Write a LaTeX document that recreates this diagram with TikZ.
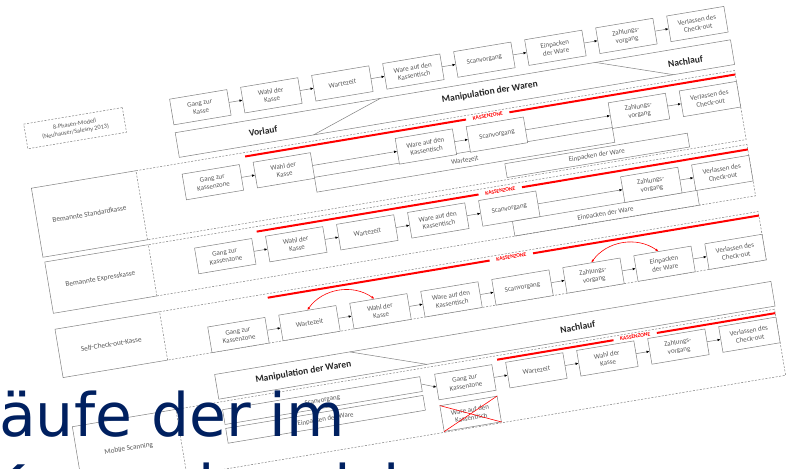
\documentclass[tikz,border=0pt]{standalone}
\usepackage{fontspec}
\setmainfont{Carlito}
\newfontfamily\bigfont{DejaVu Sans}
\usetikzlibrary{arrows.meta}
\definecolor{bx}{HTML}{808080}
\definecolor{tx}{HTML}{595959}
\definecolor{dk}{HTML}{262626}
\definecolor{navy}{HTML}{002060}
\definecolor{rd}{HTML}{FF0000}
\tikzset{
  pbox/.style={draw=bx, line width=0.5pt, fill=white, minimum width=58pt, minimum height=26pt,
    inner sep=1pt, align=center, text=tx, font=\fontsize{7}{8}\selectfont},
  wlabel/.style={inner sep=1pt, text=tx, font=\fontsize{7}{8}\selectfont},
  lanelabel/.style={inner sep=1pt, text=tx, font=\fontsize{7.3}{8}\selectfont},
  phase/.style={inner sep=1pt, text=dk, font=\fontsize{9.5}{10}\selectfont\bfseries},
  kz/.style={inner sep=0.5pt, text=rd, font=\fontsize{5.5}{6}\selectfont\bfseries},
  frame/.style={draw=bx, line width=0.5pt},
  lanebox/.style={draw=bx, line width=0.5pt, dashed, dash pattern=on 2pt off 1.5pt},
  redline/.style={draw=rd, line width=2pt},
  flow/.style={draw=bx, line width=0.5pt, -{Latex[length=3pt,width=2.6pt,color=black]}},
  swap/.style={draw=rd, line width=0.6pt, {Latex[length=3pt,width=2.6pt]}-{Latex[length=3pt,width=2.6pt]}},
  widebox/.style={draw=bx, line width=0.5pt, fill=white, minimum width=200pt, minimum height=15pt, inner sep=0pt,
    text=tx, font=\fontsize{7}{8}\selectfont},
  title/.style={anchor=base west, inner sep=0pt, text=navy, font=\bigfont\fontsize{60}{60}\selectfont}
}
\begin{document}
\begin{tikzpicture}[x=1pt,y=1pt]
\useasboundingbox (0,0) rectangle (786,468);
\fill[white] (0,0) rectangle (786,468);
\begin{scope}[shift={(400,234)}, rotate=9.5, transform shape]
% ---------- 8-Phasen-Modell ----------
\node[lanebox, minimum width=100pt, minimum height=25pt, align=center, text=tx,
  font=\fontsize{6.3}{7.3}\selectfont] (mod) at (-303,158) {8-Phasen-Modell\\(Neuhauser/Salesny 2013)};
\node[pbox] (a1) at (-176,158) {Gang zur\\Kasse};
\node[pbox] (a2) at (-104,158) {Wahl der\\Kasse};
\node[pbox] (a3) at (-32,158) {Wartezeit};
\node[pbox] (a4) at (40,158) {Ware auf den\\Kassentisch};
\node[pbox] (a5) at (112,158) {Scanvorgang};
\node[pbox] (a6) at (184,158) {Einpacken\\der Ware};
\node[pbox] (a7) at (256,158) {Zahlungs-\\vorgang};
\node[pbox] (a8) at (328,158) {Verlassen des\\Check-out};
\foreach \i/\j in {a1/a2,a2/a3,a3/a4,a4/a5,a5/a6,a6/a7,a7/a8} \draw[flow] (\i) -- (\j);
% band 1
\draw[frame] (-205,112) rectangle (358,137);
\draw[frame] (-69,112) -- (3,137);
\draw[frame] (221,137) -- (296,112);
\node[phase] (vor) at (-118,124) {Vorlauf};
\node[phase] (man1) at (112,125) {Manipulation der Waren};
\node[phase] (nach1) at (310,123) {Nachlauf};
% ---------- Lane 1: Bemannte Standardkasse ----------
\draw[frame] (-250,106) -- (-356,106) -- (-356,36) -- (-250,36);
\draw[lanebox] (-250,36) rectangle (357,106);
\node[lanelabel] (lab1) at (-303,71) {Bemannte Standardkasse};
\draw[frame] (-75,55) rectangle (227,70);
\node[wlabel] (w1) at (76,62) {Wartezeit};
\draw[frame] (115,38) rectangle (300,52);
\node[wlabel] (e1) at (207,45) {Einpacken der Ware};
\node[pbox] (b1) at (-176,82) {Gang zur\\Kassenzone};
\node[pbox] (b2) at (-104,82) {Wahl der\\Kasse};
\node[pbox] (b4) at (40,82) {Ware auf den\\Kassentisch};
\node[pbox] (b5) at (112,82) {Scanvorgang};
\node[pbox] (b7) at (256,82) {Zahlungs-\\vorgang};
\node[pbox] (b8) at (328,82) {Verlassen des\\Check-out};
\foreach \i/\j in {b1/b2,b2/b4,b4/b5,b5/b7,b7/b8} \draw[flow] (\i) -- (\j);
\draw[redline] (-140,102) -- (84,102);
\draw[redline] (128,102) -- (357,102);
\node[kz] (kz1) at (106,102) {KASSENZONE};
% ---------- Lane 2: Bemannte Expresskasse ----------
\draw[frame] (-250,31) -- (-355,31) -- (-355,-21) -- (-250,-21);
\draw[lanebox] (-250,-21) rectangle (357,31);
\node[lanelabel] (lab2) at (-303,5) {Bemannte Expresskasse};
\draw[frame] (113,-21) rectangle (300,-6);
\node[wlabel] (e2) at (206,-14) {Einpacken der Ware};
\node[pbox] (c1) at (-176,7) {Gang zur\\Kassenzone};
\node[pbox] (c2) at (-104,7) {Wahl der\\Kasse};
\node[pbox] (c3) at (-32,7) {Wartezeit};
\node[pbox] (c4) at (40,7) {Ware auf den\\Kassentisch};
\node[pbox] (c5) at (112,7) {Scanvorgang};
\node[pbox] (c7) at (256,7) {Zahlungs-\\vorgang};
\node[pbox] (c8) at (328,7) {Verlassen des\\Check-out};
\foreach \i/\j in {c1/c2,c2/c3,c3/c4,c4/c5,c5/c7,c7/c8} \draw[flow] (\i) -- (\j);
\draw[redline] (-141,26) -- (84,26);
\draw[redline] (128,26) -- (357,26);
\node[kz] (kz2) at (106,26) {KASSENZONE};
% ---------- Lane 3: Self-Check-out-Kasse ----------
\draw[frame] (-250,-37) -- (-356,-37) -- (-356,-86) -- (-250,-86);
\draw[lanebox] (-250,-86) rectangle (357,-37);
\node[lanelabel] (lab3) at (-303,-61) {Self-Check-out-Kasse};
\node[pbox] (d1) at (-176,-73) {Gang zur\\Kassenzone};
\node[pbox] (d2) at (-104,-73) {Wartezeit};
\node[pbox] (d3) at (-32,-73) {Wahl der\\Kasse};
\node[pbox] (d4) at (40,-73) {Ware auf den\\Kassentisch};
\node[pbox] (d5) at (112,-73) {Scanvorgang};
\node[pbox] (d6) at (184,-73) {Zahlungs-\\vorgang};
\node[pbox] (d7) at (256,-73) {Einpacken\\der Ware};
\node[pbox] (d8) at (328,-73) {Verlassen des\\Check-out};
\foreach \i/\j in {d1/d2,d2/d3,d3/d4,d4/d5,d5/d6,d6/d7,d7/d8} \draw[flow] (\i) -- (\j);
\draw[redline] (-141,-41) -- (84,-41);
\draw[redline] (128,-41) -- (357,-41);
\node[kz] (kz3) at (106,-41) {KASSENZONE};
\draw[swap] (d2.north) to[bend left=45] ([xshift=-4pt]d3.north);
\draw[swap] (d6.north) to[bend left=45] ([xshift=-4pt]d7.north);
% band 2
\draw[frame] (-206,-133) rectangle (358,-108);
\draw[frame] (-69,-108) -- (5,-133);
\node[phase] (man2) at (-118,-120) {Manipulation der Waren};
\node[phase] (nach2) at (160,-121) {Nachlauf};
% ---------- Lane 4: Mobile Scanning ----------
\draw[frame] (-250,-136) -- (-355,-136) -- (-355,-203) -- (-250,-203);
\draw[lanebox] (-250,-203) rectangle (357,-136);
\node[lanelabel] (lab4) at (-303,-167) {Mobile Scanning};
\node[widebox] (f1) at (-104,-151.5) {Scanvorgang};
\node[widebox] (f2) at (-104,-170.5) {Einpacken der Ware};
\node[pbox] (g4) at (40,-157) {Gang zur\\Kassenzone};
\node[pbox] (g5) at (112,-157) {Wartezeit};
\node[pbox] (g6) at (184,-157) {Wahl der\\Kasse};
\node[pbox] (g7) at (256,-157) {Zahlungs-\\vorgang};
\node[pbox] (g8) at (328,-157) {Verlassen des\\Check-out};
\node[pbox] (gx) at (40,-189) {Ware auf den\\Kassentisch};
\draw[rd, line width=0.6pt] (gx.north west) -- (gx.south east);
\draw[rd, line width=0.6pt] (gx.north east) -- (gx.south west);
\draw[flow] (f1.east) -- (g4.west);
\foreach \i/\j in {g4/g5,g5/g6,g6/g7,g7/g8} \draw[flow] (\i) -- (\j);
\draw[redline] (75,-140) -- (193,-140);
\draw[redline] (237,-140) -- (357,-140);
\node[kz] (kz4) at (215,-140) {KASSENZONE};
\end{scope}
% ---------- overlay title text ----------
\node[title] (t1) at (-1,31) {äufe der im};
\node[title] (t2) at (-14,-40) {Kassenbereich};
\end{tikzpicture}
\end{document}
